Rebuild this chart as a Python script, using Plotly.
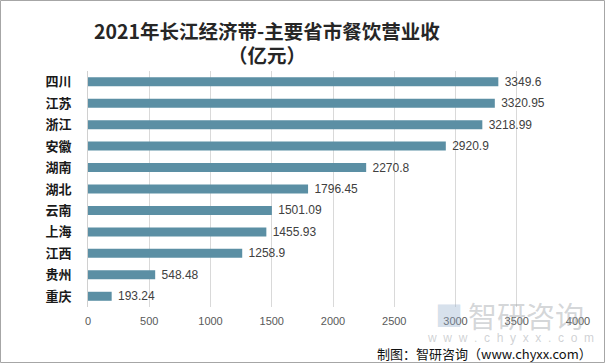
import plotly.graph_objects as go

provinces = ["四川", "江苏", "浙江", "安徽", "湖南", "湖北", "云南", "上海", "江西", "贵州", "重庆"]
values = [3349.6, 3320.95, 3218.99, 2920.9, 2270.8, 1796.45, 1501.09, 1455.93, 1258.9, 548.48, 193.24]
value_labels = ["3349.6", "3320.95", "3218.99", "2920.9", "2270.8", "1796.45", "1501.09", "1455.93", "1258.9", "548.48", "193.24"]
x_ticks = [0, 500, 1000, 1500, 2000, 2500, 3000, 3500, 4000]

CJK = "Noto Sans CJK SC"

fig = go.Figure(go.Bar(
    y=provinces, x=values, orientation="h",
    marker=dict(color="#5b8fa4", line=dict(width=0)),
    width=0.42,
    text=[" " + t for t in value_labels], textposition="outside", cliponaxis=False,
    constraintext="none",
    textfont=dict(family="Liberation Sans, Arial", size=12, color="#404040"),
))

W, H = 605, 364
L, R, T, B = 88, 27, 71, 57
pw, ph = W - L - R, H - T - B

def px(x):
    return (x - L) / pw

def py(y):
    return (H - B - y) / ph

fig.update_layout(
    width=W, height=H,
    margin=dict(l=L, r=R, t=T, b=B),
    paper_bgcolor="white", plot_bgcolor="white",
    showlegend=False,
    xaxis=dict(range=[0, 4000], tickvals=x_ticks, ticktext=[str(v) for v in x_ticks],
               showgrid=True, gridcolor="#d9d9d9", gridwidth=1, zeroline=False,
               showline=False, ticks="", ticklabelstandoff=6,
               tickfont=dict(family="Liberation Sans, Arial", size=11, color="#595959")),
    yaxis=dict(categoryorder="array", categoryarray=provinces, autorange="reversed",
               showgrid=False, zeroline=False, showline=True, linecolor="#d0d0d0", linewidth=1,
               ticks="", ticklabelstandoff=13,
               tickfont=dict(family=CJK, size=13, color="#1a1a1a", weight="bold")),
    annotations=[
        dict(text="<b>2021年长江经济带-主要省市餐饮营业收</b>", xref="paper", yref="paper",
             x=px(267), y=py(30), xanchor="center", yanchor="middle", showarrow=False,
             font=dict(family=CJK, size=19.5, color="#262626")),
        dict(text="<b>（亿元）</b>", xref="paper", yref="paper",
             x=px(267), y=py(55), xanchor="center", yanchor="middle", showarrow=False,
             font=dict(family=CJK, size=19.5, color="#262626")),
        dict(text="智研咨询", xref="paper", yref="paper",
             x=px(466), y=py(315), xanchor="left", yanchor="middle", showarrow=False,
             font=dict(family=CJK, size=29, color="rgba(160,165,170,0.45)")),
        dict(text="■", xref="paper", yref="paper",
             x=px(433), y=py(315), xanchor="left", yanchor="middle", showarrow=False,
             font=dict(family=CJK, size=28, color="rgba(150,175,205,0.40)")),
        dict(text="w  w  w  .  c  h  y  x  x  .  c  o  m", xref="paper", yref="paper",
             x=px(510), y=py(338), xanchor="center", yanchor="middle", showarrow=False,
             font=dict(family="Liberation Sans, Arial", size=12, color="rgba(160,165,170,0.5)")),
        dict(text="制图：智研咨询（www.chyxx.com）", xref="paper", yref="paper",
             x=px(594), y=py(353), xanchor="right", yanchor="middle", showarrow=False,
             font=dict(family=CJK, size=13, color="#111111")),
    ],
    shapes=[
        dict(type="rect", xref="paper", yref="paper",
             x0=px(0.5), x1=px(604.5), y0=py(362.5), y1=py(0.5),
             line=dict(color="#a6a6a6", width=1), fillcolor="rgba(0,0,0,0)", layer="below"),
    ],
)

fig.write_html("out.html", config={"displayModeBar": False},
               post_script="document.body.style.margin='0';document.body.style.padding='0';document.body.style.overflow='hidden';")
